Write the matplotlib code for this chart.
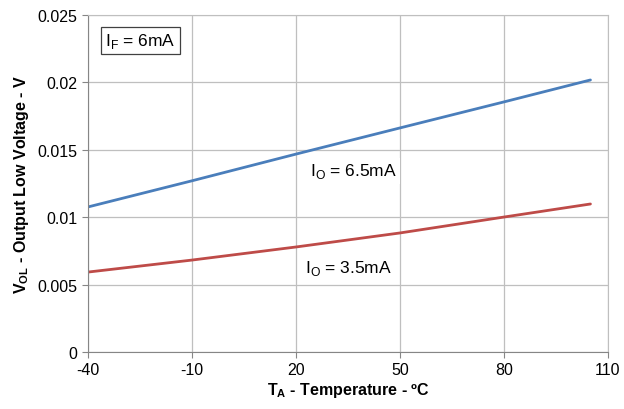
import matplotlib
matplotlib.use("Agg")
import matplotlib.pyplot as plt

plt.rcParams["font.family"] = ["Liberation Sans", "DejaVu Sans"]
plt.rcParams["axes.unicode_minus"] = False
plt.rcParams["mathtext.fontset"] = "custom"
plt.rcParams["mathtext.rm"] = "Liberation Sans"
plt.rcParams["mathtext.bf"] = "Liberation Sans:bold"

# Data
temp = [-40, -10, 20, 50, 80, 105]
vol_6p5ma = [0.01076, 0.01270, 0.01468, 0.01662, 0.01855, 0.02018]
vol_3p5ma = [0.00593, 0.00682, 0.00779, 0.00883, 0.01001, 0.01098]

x_ticks = [-40, -10, 20, 50, 80, 110]
y_ticks = [0, 0.005, 0.01, 0.015, 0.02, 0.025]
y_labels = ["0", "0.005", "0.01", "0.015", "0.02", "0.025"]

fig = plt.figure(figsize=(6.24, 4.10), dpi=100)
ax = fig.add_axes([0.141, 0.139, 0.833, 0.822])

ax.plot(temp, vol_6p5ma, color="#4A7EBB", linewidth=2.0, solid_capstyle="round")
ax.plot(temp, vol_3p5ma, color="#BE4B48", linewidth=2.0, solid_capstyle="round")

ax.set_xlim(-40, 110)
ax.set_ylim(0, 0.025)
ax.set_xticks(x_ticks)
ax.set_yticks(y_ticks)
ax.set_yticklabels(y_labels)
ax.grid(True, color="#BFBFBF", linewidth=0.9)
ax.set_axisbelow(True)

for side in ["top", "right"]:
    ax.spines[side].set_color("#BFBFBF")
for side in ["left", "bottom"]:
    ax.spines[side].set_color("#868686")
ax.tick_params(axis="both", labelsize=11.5, color="#868686", length=4)

ax.set_xlabel(r"T$_\mathbf{A}$ - Temperature - ºC", fontsize=11.5, fontweight="bold", labelpad=2)
ax.set_ylabel(r"V$_\mathbf{OL}$ - Output Low Voltage - V", fontsize=11.5, fontweight="bold", labelpad=5)

ax.text(-35, 0.0231, r"I$_\mathrm{F}$ = 6mA", fontsize=12.5, va="center", ha="left",
        bbox=dict(boxstyle="square,pad=0.25", facecolor="white", edgecolor="#404040", linewidth=0.9))
ax.text(24, 0.01343, r"I$_\mathrm{O}$ = 6.5mA", fontsize=12.5, va="center", ha="left",
        bbox=dict(boxstyle="square,pad=0.2", facecolor="white", edgecolor="none"))
ax.text(22.5, 0.0063, r"I$_\mathrm{O}$ = 3.5mA", fontsize=12.5, va="center", ha="left",
        bbox=dict(boxstyle="square,pad=0.2", facecolor="white", edgecolor="none"))

fig.savefig("out.png", dpi=100)
